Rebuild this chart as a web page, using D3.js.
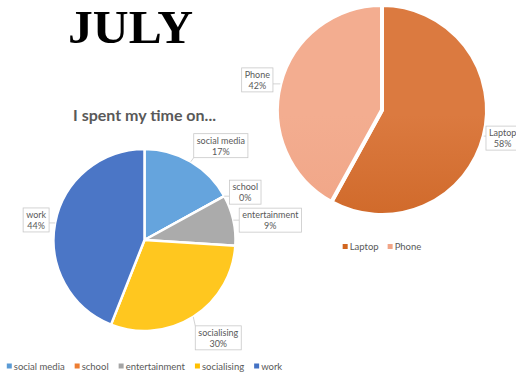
<!DOCTYPE html>
<html>
<head>
<meta charset="utf-8">
<script src="https://cdn.jsdelivr.net/npm/d3@7"></script>
<style>
  html, body { margin: 0; padding: 0; background: #fff; }
  svg { display: block; }
</style>
</head>
<body>
<svg id="chart" width="516" height="374"></svg>
<script>
// How the month was spent
const timeCategories = ["social media", "school", "entertainment", "socialising", "work"];
const timeShares = [17, 0, 9, 30, 44];

// Which device was used
const deviceCategories = ["Laptop", "Phone"];
const deviceShares = [58, 42];

const svg = d3.select("#chart");
const defs = svg.append("defs");
const labelColor = "#595959";

// Month heading
svg.append("text")
  .attr("x", 130.5).attr("y", 43)
  .attr("text-anchor", "middle")
  .attr("textLength", 125).attr("lengthAdjust", "spacingAndGlyphs")
  .style("font-family", "'Liberation Serif', 'DejaVu Serif', serif")
  .style("font-weight", "bold")
  .style("font-size", "47px")
  .attr("fill", "#000")
  .text("JULY");

// Chart title above the time pie
svg.append("text")
  .attr("x", 144.5).attr("y", 121)
  .attr("text-anchor", "middle")
  .attr("textLength", 143).attr("lengthAdjust", "spacingAndGlyphs")
  .style("font-family", "Lato, 'Open Sans', sans-serif")
  .style("font-weight", "bold")
  .style("font-size", "15px")
  .attr("fill", labelColor)
  .text("I spent my time on...");

function drawPie(cfg) {
  const { id, cats, vals, cx, cy, r, gap, colors, nudges, legendY, legendGap } = cfg;
  const total = d3.sum(vals);
  const color = d3.scaleOrdinal().domain(cats).range(colors.map(c => c.base));

  // soft vertical shading on each slice
  cats.forEach((c, i) => {
    const grad = defs.append("linearGradient")
      .attr("id", `${id}-g${i}`)
      .attr("gradientUnits", "userSpaceOnUse")
      .attr("x1", 0).attr("y1", cy - r).attr("x2", 0).attr("y2", cy + r);
    grad.append("stop").attr("offset", "0%").attr("stop-color", colors[i].top);
    grad.append("stop").attr("offset", "100%").attr("stop-color", colors[i].bottom);
  });

  const pie = d3.pie().sort(null).value(d => d.v);
  const arcs = pie(cats.map((c, i) => ({ c, v: vals[i], i })));
  const arc = d3.arc().innerRadius(0).outerRadius(r);

  const g = svg.append("g").attr("transform", `translate(${cx},${cy})`);
  g.selectAll("path.slice")
    .data(arcs)
    .join("path")
    .attr("class", "slice")
    .attr("d", arc)
    .attr("fill", d => `url(#${id}-g${d.data.i})`)
    .attr("stroke", "#fff")
    .attr("stroke-width", gap)
    .attr("stroke-linejoin", "round");

  // callout labels
  const lg = svg.append("g")
    .style("font-family", "Lato, 'Open Sans', sans-serif")
    .style("font-size", "9px");
  arcs.forEach(d => {
    const mid = (d.startAngle + d.endAngle) / 2;
    const px = cx + Math.sin(mid) * r;
    const py = cy - Math.cos(mid) * r;
    const nd = nudges[d.data.c];
    const bx = px + nd[0], by = py + nd[1];
    const pct = Math.round(d.data.v / total * 100) + "%";

    const box = lg.append("rect").attr("fill", "#fff").attr("stroke", "#c8c8c8").attr("stroke-width", 0.8);
    const t1 = lg.append("text").attr("x", bx).attr("y", by - 5.5).attr("text-anchor", "middle")
      .attr("dominant-baseline", "central").attr("fill", labelColor).text(d.data.c);
    const t2 = lg.append("text").attr("x", bx).attr("y", by + 5.5).attr("text-anchor", "middle")
      .attr("dominant-baseline", "central").attr("fill", labelColor).text(pct);
    const w = Math.max(t1.node().getComputedTextLength(), t2.node().getComputedTextLength()) + 6;
    const h = 24;
    const x0 = bx - w / 2, y0 = by - h / 2;
    box.attr("x", x0).attr("y", y0).attr("width", w).attr("height", h);
    // leader from nearest box edge to the slice rim
    const qx = Math.max(x0, Math.min(x0 + w, px));
    const qy = Math.max(y0, Math.min(y0 + h, py));
    lg.insert("line", "rect")
      .attr("x1", qx).attr("y1", qy).attr("x2", px).attr("y2", py)
      .attr("stroke", "#c8c8c8").attr("stroke-width", 0.8);
  });

  // legend, centred under the pie
  const leg = svg.append("g")
    .style("font-family", "Lato, 'Open Sans', sans-serif")
    .style("font-size", "9.5px");
  let x = 0;
  cats.forEach((c, i) => {
    const it = leg.append("g");
    it.append("rect").attr("x", 0).attr("y", -2.5).attr("width", 5).attr("height", 5).attr("fill", color(c));
    const t = it.append("text").attr("x", 7).attr("y", 0).attr("dominant-baseline", "central")
      .attr("fill", labelColor).text(c);
    const w = 7 + t.node().getComputedTextLength();
    it.attr("transform", `translate(${x},${legendY})`);
    x += w + legendGap;
  });
  const totalW = x - legendGap;
  leg.attr("transform", `translate(${cx - totalW / 2},0)`);
}

drawPie({
  id: "dev",
  cats: deviceCategories,
  vals: deviceShares,
  cx: 382, cy: 110, r: 105, gap: 4,
  colors: [
    { base: "#D2661F", top: "#DB7A40", bottom: "#C55914" },
    { base: "#F1A587", top: "#F3AD90", bottom: "#EE9E7E" }
  ],
  nudges: { "Laptop": [19, 2], "Phone": [-23, -4] },
  legendY: 246.5, legendGap: 9
});

drawPie({
  id: "time",
  cats: timeCategories,
  vals: timeShares,
  cx: 144.5, cy: 240, r: 91, gap: 2.5,
  colors: [
    { base: "#5B9BD5", top: "#65A4DD", bottom: "#4B8CCA" },
    { base: "#ED7D31", top: "#ED7D31", bottom: "#ED7D31" },
    { base: "#A5A5A5", top: "#ABABAB", bottom: "#8C8C8C" },
    { base: "#FFC000", top: "#FFC71F", bottom: "#F2B400" },
    { base: "#4472C4", top: "#4B76C6", bottom: "#2F5FBA" }
  ],
  nudges: {
    "social media": [30, -16],
    "school": [21, -4],
    "entertainment": [37, 0],
    "socialising": [25, 21],
    "work": [-19, -3]
  },
  legendY: 366, legendGap: 10
});
</script>
</body>
</html>
